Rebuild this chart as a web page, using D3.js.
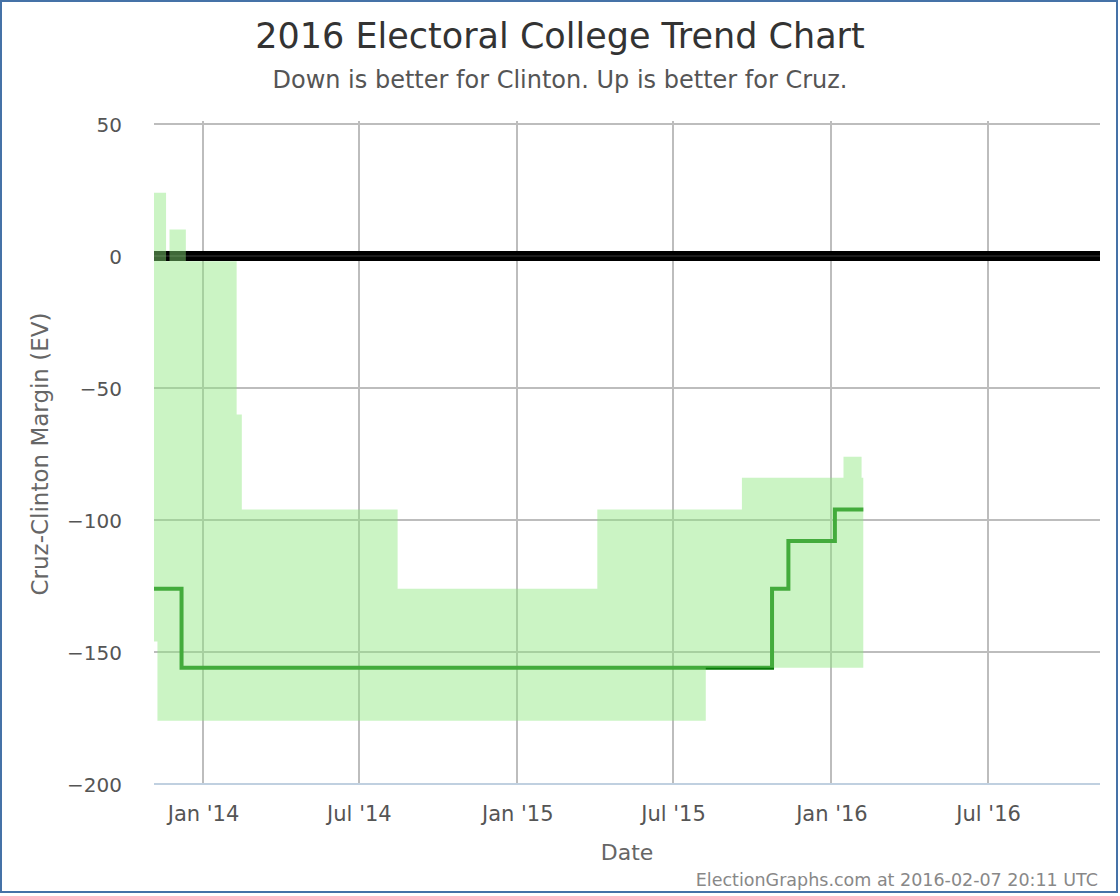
<!DOCTYPE html>
<html lang="en">
<head>
    <meta charset="UTF-8">
    <title>2016 Electoral College Trend Chart</title>
    <script src="https://d3js.org/d3.v7.min.js"></script>
    <style>
        body {
            margin: 0;
            font-family: "DejaVu Sans", Verdana, sans-serif;
            background: #fff;
        }
    </style>
</head>
<body>
    <div id="chart"></div>

    <script>
        // Cruz-Clinton margin (EV), step changes
        const centerDates = ["2013-11-05", "2013-12-07", "2015-10-24", "2015-11-12", "2016-01-05", "2016-02-07"];
        const centerValues = [-126, -156, -126, -108, -96, -96];

        // upper edge of the range (best case for Cruz)
        const upperDates = ["2013-11-05", "2013-11-19", "2013-11-23", "2013-12-12", "2014-02-09", "2014-02-15",
                            "2014-08-15", "2015-04-04", "2015-09-19", "2016-01-15", "2016-02-05", "2016-02-07"];
        const upperValues = [24, -2, 10, -2, -60, -96, -126, -96, -84, -76, -84, -84];

        // lower edge of the range (best case for Clinton)
        const lowerDates = ["2013-11-05", "2013-11-09", "2015-08-08", "2016-02-07"];
        const lowerValues = [-146, -176, -156, -156];

        const yTicks = [-200, -150, -100, -50, 0, 50];

        const parse = d3.timeParse("%Y-%m-%d");

        const width = 1120, height = 896;
        const margin = { left: 154, right: 20, top: 124, bottom: 112 };

        const svg = d3.select("#chart").append("svg")
            .attr("width", width)
            .attr("height", height);

        const x = d3.scaleTime()
            .domain([parse("2013-11-05"), parse("2016-11-08")])
            .range([margin.left, width - margin.right]);

        const y = d3.scaleLinear()
            .domain([-200, 50])
            .range([height - margin.bottom, margin.top]);

        // step lookup for a series at a given date
        function stepValue(dates, values, t) {
            let v = values[0];
            dates.forEach((d, i) => { if (parse(d) <= t) v = values[i]; });
            return v;
        }

        // merge the dates of both edges so the band can be one area
        const bandDates = Array.from(new Set(upperDates.concat(lowerDates)))
            .map(parse)
            .sort((a, b) => a - b);
        const band = bandDates.map(t => ({
            date: t,
            hi: stepValue(upperDates, upperValues, t),
            lo: stepValue(lowerDates, lowerValues, t)
        }));

        const center = centerDates.map((d, i) => ({ date: parse(d), value: centerValues[i] }));

        // gridlines
        const grid = svg.append("g");
        grid.selectAll(".hgrid")
            .data(yTicks)
            .enter().append("line")
            .attr("x1", margin.left)
            .attr("x2", width - margin.right)
            .attr("y1", d => y(d))
            .attr("y2", d => y(d))
            .attr("stroke", "#bdbdbd")
            .attr("stroke-width", 2);

        const xTicks = x.ticks(d3.timeMonth.every(6));
        grid.selectAll(".vgrid")
            .data(xTicks)
            .enter().append("line")
            .attr("x1", d => Math.round(x(d)))
            .attr("x2", d => Math.round(x(d)))
            .attr("y1", margin.top - 3)
            .attr("y2", height - margin.bottom)
            .attr("stroke", "#bdbdbd")
            .attr("stroke-width", 2);

        // x axis line
        svg.append("line")
            .attr("x1", margin.left)
            .attr("x2", width - margin.right)
            .attr("y1", y(-200))
            .attr("y2", y(-200))
            .attr("stroke", "#c0d0e0")
            .attr("stroke-width", 2);

        // zero line
        svg.append("line")
            .attr("x1", margin.left)
            .attr("x2", width - margin.right)
            .attr("y1", y(0))
            .attr("y2", y(0))
            .attr("stroke", "#000")
            .attr("stroke-width", 10);
        svg.append("line")
            .attr("x1", margin.left)
            .attr("x2", width - margin.right)
            .attr("y1", y(0))
            .attr("y2", y(0))
            .attr("stroke", "#1c1c1c")
            .attr("stroke-width", 2);

        // center line, drawn under the band
        const line = d3.line()
            .curve(d3.curveStepAfter)
            .x(d => x(d.date))
            .y(d => y(d.value));

        svg.append("path")
            .datum(center)
            .attr("fill", "none")
            .attr("stroke", "rgb(8,122,8)")
            .attr("stroke-width", 4)
            .attr("d", line);

        // range band
        const area = d3.area()
            .curve(d3.curveStepAfter)
            .x(d => x(d.date))
            .y0(d => y(d.lo))
            .y1(d => y(d.hi));

        svg.append("path")
            .datum(band)
            .attr("fill", "rgb(140,230,125)")
            .attr("fill-opacity", 0.45)
            .attr("d", area);

        // y axis labels
        const yAxis = svg.append("g")
            .attr("transform", `translate(${margin.left - 32},0)`)
            .call(d3.axisLeft(y).tickValues(yTicks).tickSize(0).tickPadding(0));
        yAxis.select(".domain").remove();
        yAxis.selectAll("text")
            .attr("font-family", "DejaVu Sans")
            .attr("font-size", 20)
            .attr("fill", "#555")
            .attr("dy", "0.35em");

        // x axis labels
        const xAxis = svg.append("g")
            .attr("transform", `translate(0,${height - margin.bottom})`)
            .call(d3.axisBottom(x).ticks(d3.timeMonth.every(6))
                .tickFormat(d3.timeFormat("%b '%y")).tickSize(0).tickPadding(22));
        xAxis.select(".domain").remove();
        xAxis.selectAll("text")
            .attr("font-family", "DejaVu Sans")
            .attr("font-size", 21)
            .attr("fill", "#555");

        // titles
        svg.append("text")
            .attr("x", width / 2)
            .attr("y", 48)
            .attr("text-anchor", "middle")
            .attr("font-size", 35)
            .attr("fill", "#333")
            .text("2016 Electoral College Trend Chart");

        svg.append("text")
            .attr("x", width / 2)
            .attr("y", 88)
            .attr("text-anchor", "middle")
            .attr("font-size", 24)
            .attr("fill", "#555")
            .text("Down is better for Clinton. Up is better for Cruz.");

        svg.append("text")
            .attr("transform", `translate(48,${(margin.top + height - margin.bottom) / 2}) rotate(-90)`)
            .attr("text-anchor", "middle")
            .attr("font-size", 23)
            .attr("fill", "#666")
            .text("Cruz-Clinton Margin (EV)");

        svg.append("text")
            .attr("x", (margin.left + width - margin.right) / 2)
            .attr("y", 860)
            .attr("text-anchor", "middle")
            .attr("font-size", 22)
            .attr("fill", "#666")
            .text("Date");

        svg.append("text")
            .attr("x", 1098)
            .attr("y", 886)
            .attr("text-anchor", "end")
            .attr("font-size", 17.5)
            .attr("fill", "#888")
            .text("ElectionGraphs.com at 2016-02-07 20:11 UTC");

        // frame
        svg.append("rect")
            .attr("x", 1)
            .attr("y", 1)
            .attr("width", 1116)
            .attr("height", 891)
            .attr("fill", "none")
            .attr("stroke", "#4572a7")
            .attr("stroke-width", 2);
    </script>
</body>
</html>
